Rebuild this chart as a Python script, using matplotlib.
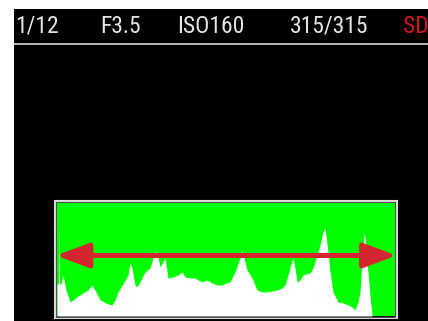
import numpy as np
import matplotlib
matplotlib.use("Agg")
import matplotlib.pyplot as plt
from matplotlib import font_manager
from matplotlib.patches import Rectangle, FancyArrowPatch, ArrowStyle

# Screen info shown above the histogram
info_labels = ["1/12", "F3.5", "ISO160", "315/315", "SD"]
info_x = [15, 100, 177, 290, 403]
info_colors = ["#e4e4e4", "#e4e4e4", "#e4e4e4", "#e4e4e4", "#d01818"]

# Histogram (tone position 0..338, count 0..114)
tone = [0, 1.6, 2, 2.5, 4, 6, 9, 13, 16, 21, 26, 31, 35, 39, 43, 49, 55, 58, 61,
        66, 71, 73, 75, 78, 80, 84, 88, 93, 96, 98, 100, 103, 106, 108, 111, 116,
        121, 125, 128, 133, 138, 145, 150, 155, 160, 165, 169, 173, 178, 183, 185,
        187, 190, 195, 200, 205, 210, 215, 220, 225, 228, 231, 233, 236, 238, 240,
        243, 246, 249, 253, 256, 258, 261, 263, 265, 266, 268, 269.5, 271, 273,
        276, 281, 286, 291, 295, 298, 301, 303, 305, 307, 308.5, 310, 313, 315, 338]
count = [32, 32, 89, 32, 32, 41, 26, 14, 16, 20, 23, 26, 31, 24, 16, 13, 11, 16, 24,
         32, 41, 53, 48, 31, 29, 36, 44, 48, 58, 64, 64, 49, 54, 58, 38, 39,
         41, 44, 39, 38, 38, 34, 36, 33, 31, 31, 33, 34, 44, 58, 66,
         58, 46, 38, 26, 24, 24, 25, 26, 28, 31, 41, 48, 58, 48, 34,
         36, 41, 42, 43, 48, 54, 64, 71, 80, 84, 88, 76, 64, 44,
         24, 14, 13, 11, 9, 6, 14, 24, 54, 83, 76, 54, 21, 0, 0]

W, H = 428, 321

# pick a narrow face if one exists
names = {f.name for f in font_manager.fontManager.ttflist}
print(sorted(n for n in names if "Narrow" in n or "Condensed" in n))
font = ["Liberation Sans Narrow", "DejaVu Sans Condensed", "Roboto Condensed",
        "Liberation Sans", "DejaVu Sans"]

fig = plt.figure(figsize=(W / 100, H / 100), dpi=100, facecolor="white")


def pixel_axes(z):
    ax = fig.add_axes([0, 0, 1, 1], zorder=z)
    ax.set_xlim(0, W)
    ax.set_ylim(H, 0)
    ax.axis("off")
    ax.patch.set_visible(False)
    return ax


bg = pixel_axes(0)
bg.add_patch(Rectangle((14, 9), W - 14, H - 9, facecolor="black", edgecolor="none"))
bg.plot([14, W], [43.5, 43.5], color="#d8d8d8", lw=1.2)

for lab, x, c in zip(info_labels, info_x, info_colors):
    bg.text(x, 33, lab, color=c, fontsize=17, va="baseline", ha="left",
            family=font, stretch="condensed")

# histogram axes
hx0, hx1, hy0, hy1 = 57, 395, 202, 316
hax = fig.add_axes([hx0 / W, (H - hy1) / H, (hx1 - hx0) / W, (hy1 - hy0) / H], zorder=1)
hax.set_facecolor("#00ff00")
hax.fill_between(tone, count, 0, color="white", lw=0)
hax.set_xlim(0, 338)
hax.set_ylim(0, 114)
hax.set_xticks([])
hax.set_yticks([])
for s in hax.spines.values():
    s.set_visible(False)

# frame and arrow on top
top = pixel_axes(2)
top.add_patch(Rectangle((55, 201), 342, 117, facecolor="none",
                        edgecolor="#dcdcdc", lw=1.5))
top.add_patch(Rectangle((56.5, 202), 339, 115, facecolor="none",
                        edgecolor="#505050", lw=0.8))
arrow = FancyArrowPatch((56, 255.5), (396.5, 255.5),
                        arrowstyle=ArrowStyle("<|-|>", head_length=20, head_width=7.5),
                        mutation_scale=1, color="#d4262e", lw=3.6,
                        shrinkA=0, shrinkB=0)
top.add_patch(arrow)

fig.savefig("out.png", dpi=100, facecolor="white")
